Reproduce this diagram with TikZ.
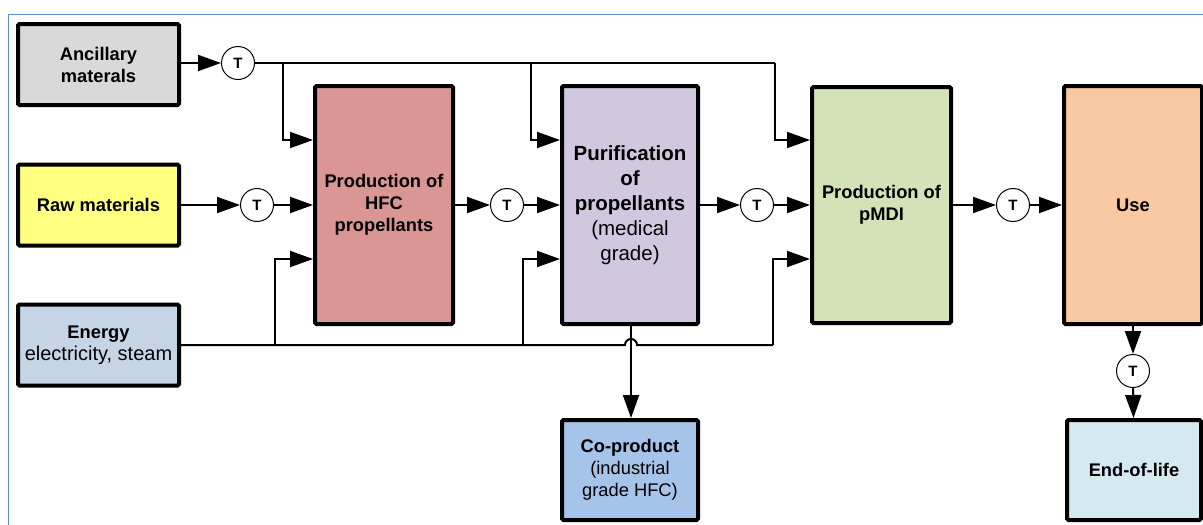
\documentclass[tikz,border=0pt]{standalone}
\usepackage{fontspec}
\setmainfont{Liberation Sans}
\usetikzlibrary{arrows.meta}
\definecolor{cAnc}{HTML}{D9D9D9}
\definecolor{cRaw}{HTML}{FFFF80}
\definecolor{cEn}{HTML}{C6D5E6}
\definecolor{cHfc}{HTML}{D99694}
\definecolor{cPur}{HTML}{D1C8DF}
\definecolor{cPm}{HTML}{D4E2B8}
\definecolor{cUse}{HTML}{F9C9A3}
\definecolor{cCop}{HTML}{A6C3E9}
\definecolor{cEol}{HTML}{D4EAF0}
\definecolor{cFrame}{HTML}{5F8FCB}
\begin{document}
\begin{tikzpicture}[x=1pt,y=-1pt,
  box/.style={draw, line width=4pt, rounded corners=1.5pt, align=center, inner sep=2pt,
    font=\fontsize{18.3}{22}\selectfont\bfseries},
  tnode/.style={draw, circle, line width=1pt, fill=white, minimum size=33pt, inner sep=0pt,
    font=\fontsize{15}{17}\selectfont\bfseries},
  conn/.style={line width=2pt},
  arr/.style={line width=2pt, -{Triangle[length=23pt,width=16pt]}}]
\useasboundingbox (0,0) rectangle (1203,525);
% frame
\draw[cFrame, line width=1pt] (8,525) -- (8,14) -- (1203,14);
% boxes
\node[box, fill=cAnc, minimum width=161pt, minimum height=81pt] (anc) at (98.5,64.5) {Ancillary\\materals};
\node[box, fill=cRaw, minimum width=161pt, minimum height=81pt] (raw) at (98.5,205) {Raw materials};
\node[box, fill=cEn, minimum width=161pt, minimum height=81pt] (en) at (98.5,345) {Energy\\{\mdseries\fontsize{20}{22}\selectfont electricity, steam}};
\node[box, fill=cHfc, minimum width=138pt, minimum height=238pt] (hfc) at (384,205) {Production of\\HFC\\propellants};
\node[box, fill=cPur, minimum width=136pt, minimum height=238pt,
  font=\fontsize{20.5}{25}\selectfont\bfseries] (pur) at (630,205) {Purification\\of\\propellants\\{\mdseries (medical}\\{\mdseries grade)}};
\node[box, fill=cPm, minimum width=139pt, minimum height=236pt] (pm) at (881.5,205) {Production of\\pMDI};
\node[box, fill=cUse, minimum width=138pt, minimum height=238pt] (use) at (1133,205) {Use};
\node[box, fill=cCop, minimum width=136pt, minimum height=100pt] (cop) at (630,470) {Co-product\\{\mdseries (industrial}\\{\mdseries grade HFC)}};
\node[box, fill=cEol, minimum width=134pt, minimum height=100pt] (eol) at (1134,470) {End-of-life};
% T nodes
\node[tnode] (t1) at (238,63) {T};
\node[tnode] (t2) at (257,205) {T};
\node[tnode] (t3) at (507,205) {T};
\node[tnode] (t4) at (757,205) {T};
\node[tnode] (t5) at (1013,205) {T};
\node[tnode] (t6) at (1133,371) {T};
% helper coordinates
\coordinate (ja) at (283,63);
\coordinate (jb) at (531,63);
\coordinate (jc) at (775,63);
\coordinate (yTop) at (0,140);
\coordinate (yBot) at (0,259);
\coordinate (je1) at (275,345);
\coordinate (je2) at (523,345);
\coordinate (hop) at (625,345);
\coordinate (je3) at (773,345);
% ancillary supply
\draw[arr] (anc.east |- t1) -- (t1);
\draw[conn] (t1) -- (jc);
\draw[arr] (ja) |- (hfc.west |- yTop);
\draw[arr] (jb) |- (pur.west |- yTop);
\draw[arr] (jc) |- (pm.west |- yTop);
% main chain
\draw[arr] (raw) -- (t2);
\draw[arr] (t2) -- (hfc);
\draw[arr] (hfc) -- (t3);
\draw[arr] (t3) -- (pur);
\draw[arr] (pur) -- (t4);
\draw[arr] (t4) -- (pm);
\draw[arr] (pm) -- (t5);
\draw[arr] (t5) -- (use);
% energy supply
\draw[conn] (en.east) -- (hop) arc[start angle=180, end angle=360, radius=6] -- (je3);
\draw[arr] (je1) |- (hfc.west |- yBot);
\draw[arr] (je2) |- (pur.west |- yBot);
\draw[arr] (je3) |- (pm.west |- yBot);
% co-product and end of life
\draw[arr] (pur.south -| 631,0) -- (cop.north -| 631,0);
\draw[arr] (use) -- (t6);
\draw[arr] (t6) -- (eol);
\end{tikzpicture}
\end{document}
